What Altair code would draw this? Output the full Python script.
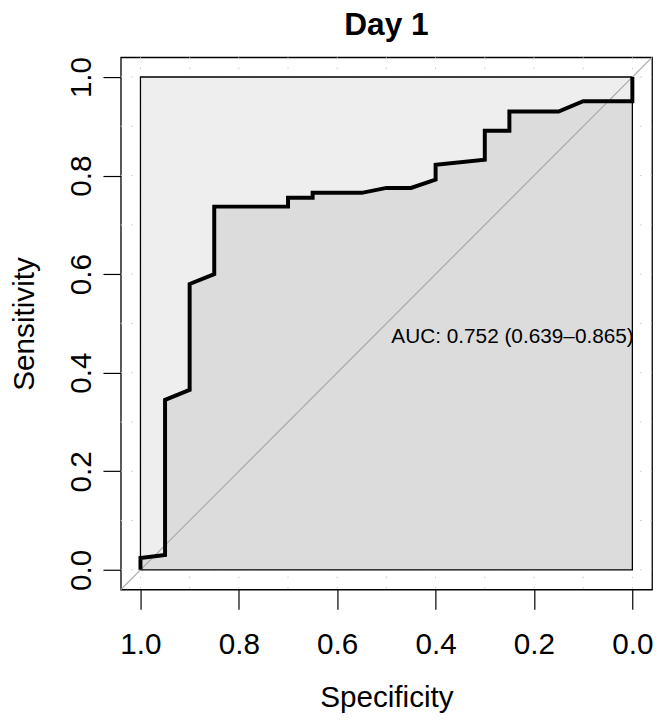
import altair as alt
import pandas as pd

# ---- data ----
specificity = [1.0, 1.0, 0.95, 0.95, 0.90, 0.90, 0.85, 0.85, 0.70, 0.70, 0.65, 0.65,
               0.55, 0.50, 0.45, 0.40, 0.40, 0.30, 0.30, 0.25, 0.25, 0.15, 0.10, 0.0, 0.0]
sensitivity = [0.0, 0.024, 0.030, 0.345, 0.365, 0.580, 0.600, 0.737, 0.737, 0.755, 0.755, 0.765,
               0.765, 0.775, 0.775, 0.792, 0.822, 0.832, 0.891, 0.891, 0.930, 0.930, 0.951, 0.951, 1.0]
tick_values = [0.0, 0.2, 0.4, 0.6, 0.8, 1.0]
grid_values = [0.0, 0.1, 0.2, 0.3, 0.4, 0.5, 0.6, 0.7, 0.8, 0.9, 1.0]
diag_spec = [1.04, -0.04]
diag_sens = [-0.04, 1.04]
auc_label = "AUC: 0.752 (0.639\u20130.865)"
auc_pos = (0.49, 0.472)
chart_title = "Day 1"
x_title = "Specificity"
y_title = "Sensitivity"

W, H = 537, 538
FONT = "Liberation Sans"

curve_df = pd.DataFrame({"i": list(range(len(specificity))), "spec": specificity,
                         "sens": sensitivity})

# The area mark orders its path by x; points sharing a specificity (vertical steps)
# get a negligible offset so that the path keeps the curve's step order.
area_x = []
prev, k = None, 0
for s in specificity:
    k = k + 1 if s == prev else 0
    area_x.append(s - k * 1e-6)
    prev = s
area_df = pd.DataFrame({"spec": area_x, "sens": sensitivity})

grid_df = pd.DataFrame({"g": grid_values})
rect_df = pd.DataFrame({"x": [1.0], "x2": [0.0], "y": [0.0], "y2": [1.0]})
diag_df = pd.DataFrame({"spec": diag_spec, "sens": diag_sens})
text_df = pd.DataFrame({"spec": [auc_pos[0]], "sens": [auc_pos[1]], "label": [auc_label]})

xs = alt.Scale(domain=[-0.04, 1.04], reverse=True, nice=False, zero=False)
ys = alt.Scale(domain=[-0.04, 1.04], nice=False, zero=False)

x_axis = alt.Axis(values=tick_values, format=".1f", grid=False, domain=False,
                  tickSize=20, tickColor="black", tickWidth=1.2,
                  labelFontSize=30, labelFont=FONT, labelColor="black", labelPadding=21,
                  title=x_title, titleFontSize=30, titleFont=FONT, titleFontWeight="normal",
                  titleColor="black", titleX=W / 2, titleY=109,
                  titleBaseline="middle", titleAlign="center")
y_axis = alt.Axis(values=tick_values, format=".1f", grid=False, domain=False,
                  tickSize=18, tickColor="black", tickWidth=1.2,
                  labelFontSize=30, labelFont=FONT, labelColor="black", labelPadding=22,
                  labelAngle=270, labelAlign="center", labelBaseline="middle",
                  title=y_title, titleFontSize=30, titleFont=FONT, titleFontWeight="normal",
                  titleColor="black", titleX=-97, titleY=H / 2, titleAngle=270,
                  titleBaseline="middle", titleAlign="center")


def X(field):
    return alt.X(field, scale=xs, axis=x_axis)


def Y(field, **kw):
    return alt.Y(field, scale=ys, axis=y_axis, **kw)


vgrid = alt.Chart(grid_df).mark_rule(color="#c8c8c8", strokeWidth=1, strokeDash=[1.5, 9]).encode(
    x=X("g:Q"), y=alt.value(0), y2=alt.value(H))
hgrid = alt.Chart(grid_df).mark_rule(color="#c8c8c8", strokeWidth=1, strokeDash=[1.5, 9]).encode(
    y=Y("g:Q"), x=alt.value(0), x2=alt.value(W))

rect_fill = alt.Chart(rect_df).mark_rect(fill="#EEEEEE", strokeWidth=0).encode(
    x=X("x:Q"), x2="x2:Q", y=Y("y:Q"), y2="y2:Q")

area = alt.Chart(area_df).mark_area(color="#DCDCDC", opacity=1).encode(
    x=X("spec:Q"), y=Y("sens:Q", stack=None))

rect_border = alt.Chart(rect_df).mark_rect(fillOpacity=0, stroke="black", strokeWidth=1.3).encode(
    x=X("x:Q"), x2="x2:Q", y=Y("y:Q"), y2="y2:Q")

diag = alt.Chart(diag_df).mark_line(color="#A9A9A9", strokeWidth=1.2).encode(
    x=X("spec:Q"), y=Y("sens:Q"))

curve = alt.Chart(curve_df).mark_line(color="black", strokeWidth=4, strokeJoin="miter").encode(
    x=X("spec:Q"), y=Y("sens:Q"), order=alt.Order("i:Q"))

text = alt.Chart(text_df).mark_text(align="left", baseline="middle", fontSize=21,
                                    font=FONT, color="black").encode(
    x=X("spec:Q"), y=Y("sens:Q"), text="label:N")

chart = alt.layer(vgrid, hgrid, rect_fill, area, rect_border, diag, curve, text).properties(
    width=W, height=H,
    background="white",
    title=alt.TitleParams(chart_title, fontSize=32, font=FONT, fontWeight="bold",
                          anchor="middle", color="black", offset=13),
    autosize=alt.AutoSizeParams(type="none"),
    padding={"left": 114, "top": 46, "right": 4, "bottom": 126},
).configure_view(stroke="black", strokeWidth=1.3)

chart.save("out.html", embed_options={"renderer": "svg", "actions": False})
